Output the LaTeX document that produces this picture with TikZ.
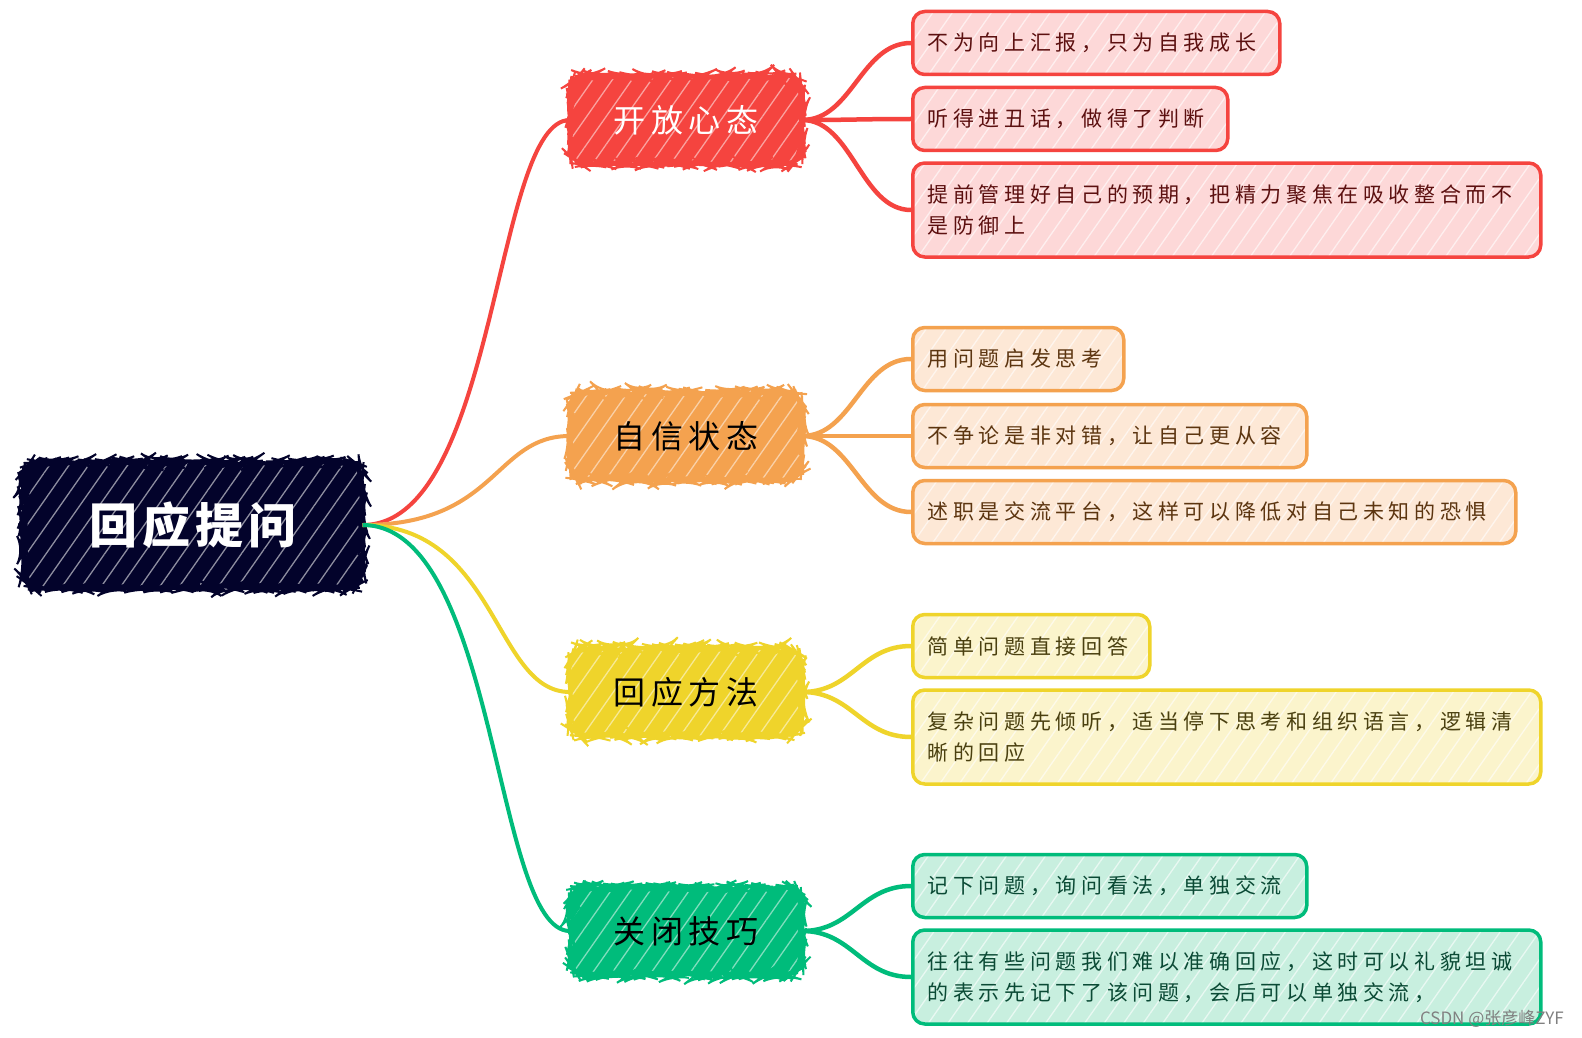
\documentclass[tikz,border=0pt]{standalone}
\usepackage{fontspec}
\usetikzlibrary{patterns.meta,decorations.pathmorphing}
\newfontfamily\leaffont[LetterSpace=22]{Noto Sans CJK SC}
\newfontfamily\branchfont[LetterSpace=18]{Noto Sans CJK SC}
\newfontfamily\rootfont[LetterSpace=10]{Noto Sans CJK SC}
\newfontfamily\markfont{Noto Sans CJK SC}
\definecolor{cRoot}{HTML}{03032B}
\definecolor{cRed}{HTML}{F5443F}
\definecolor{cOrange}{HTML}{F4A24F}
\definecolor{cYellow}{HTML}{EFD42B}
\definecolor{cGreen}{HTML}{00BC7B}
\definecolor{cRedL}{HTML}{FDD8D8}
\definecolor{cOrangeL}{HTML}{FDE8D6}
\definecolor{cYellowL}{HTML}{FBF4CC}
\definecolor{cGreenL}{HTML}{C8EFDF}
\definecolor{tRed}{HTML}{5C1010}
\definecolor{tOrange}{HTML}{5C3510}
\definecolor{tYellow}{HTML}{4A4010}
\definecolor{tGreen}{HTML}{0B4A35}
\begin{document}
\begin{tikzpicture}[x=1pt,y=-1pt]
\tikzset{
  hatch/.style={preaction={pattern={Lines[angle=55,distance=16pt,line width=1.3pt]},pattern color=white,opacity=#1}},
  rootbox/.style={rounded corners=16pt,minimum width=339pt,minimum height=126pt,inner sep=0pt,
    preaction={fill=cRoot},hatch=0.55,
    postaction={draw=cRoot,line width=2pt,decorate,decoration={random steps,segment length=4pt,amplitude=1.3pt}},
    text=white,font=\rootfont\fontsize{48}{52}\selectfont\bfseries},
  branchbox/.style={rounded corners=16pt,minimum width=232pt,minimum height=88pt,inner sep=0pt,
    preaction={fill=#1},hatch=0.5,
    postaction={draw=#1,line width=2pt,decorate,decoration={random steps,segment length=4pt,amplitude=1.3pt}},
    font=\branchfont\fontsize{32}{36}\selectfont},
  leafbox/.style 2 args={anchor=west,rounded corners=12pt,minimum height=63pt,inner xsep=15pt,inner ysep=0pt,
    align=left,preaction={fill=#2},hatch=0.6,draw=#1,line width=3.5pt,
    font=\leaffont\fontsize{21}{31}\selectfont},
  leafred/.style={leafbox={cRed}{cRedL},text=tRed},
  leaforange/.style={leafbox={cOrange}{cOrangeL},text=tOrange},
  leafyellow/.style={leafbox={cYellow}{cYellowL},text=tYellow},
  leafgreen/.style={leafbox={cGreen}{cGreenL},text=tGreen},
  twoline/.style={minimum height=94pt},
  mainlink/.style={line width=4pt,draw=#1},
  leaflink/.style={line width=4.5pt,draw=#1}
}
\useasboundingbox[fill=white] (0,0) rectangle (1582,1038);
\node[rootbox] (n_root) at (193,525) {回应提问};
\node[branchbox=cRed,text=white] (n_open) at (686,120) {开放心态};
\node[branchbox=cOrange,text=black] (n_conf) at (686,436) {自信状态};
\node[branchbox=cYellow,text=black] (n_meth) at (686,692) {回应方法};
\node[branchbox=cGreen,text=black] (n_close) at (686,931) {关闭技巧};
\node[leafred,text width=337pt] (n_open1) at (911,43) {不为向上汇报，只为自我成长};
\node[leafred,text width=285pt] (n_open2) at (911,119) {听得进丑话，做得了判断};
\node[leafred,twoline,text width=598pt] (n_open3) at (911,210) {提前管理好自己的预期，把精力聚焦在吸收整合而不\\是防御上};
\node[leaforange,text width=181pt] (n_conf1) at (911,359) {用问题启发思考};
\node[leaforange,text width=364pt] (n_conf2) at (911,436) {不争论是非对错，让自己更从容};
\node[leaforange,text width=573pt] (n_conf3) at (911,512) {述职是交流平台，这样可以降低对自己未知的恐惧};
\node[leafyellow,text width=207pt] (n_meth1) at (911,646) {简单问题直接回答};
\node[leafyellow,twoline,text width=598pt] (n_meth2) at (911,737) {复杂问题先倾听，适当停下思考和组织语言，逻辑清\\晰的回应};
\node[leafgreen,text width=364pt] (n_close1) at (911,886) {记下问题，询问看法，单独交流};
\node[leafgreen,twoline,text width=598pt] (n_close2) at (911,977) {往往有些问题我们难以准确回应，这时可以礼貌坦诚\\的表示先记下了该问题，会后可以单独交流，};
\node[anchor=east,text=black!50,font=\markfont\fontsize{17}{19}\selectfont,inner sep=0pt] (n_mark) at (1564,1019) {CSDN @张彦峰ZYF};
\draw[mainlink=cRed] (n_root.east) .. controls +(135,0) and +(-76,0) .. (n_open.west);
\draw[mainlink=cOrange] (n_root.east) .. controls +(135,0) and +(-76,0) .. (n_conf.west);
\draw[mainlink=cYellow] (n_root.east) .. controls +(135,0) and +(-76,0) .. (n_meth.west);
\draw[mainlink=cGreen] (n_root.east) .. controls +(135,0) and +(-76,0) .. (n_close.west);
\draw[leaflink=cRed] (n_open.east) .. controls +(50,0) and +(-50,0) .. (n_open1.west);
\draw[leaflink=cRed] (n_open.east) .. controls +(50,0) and +(-50,0) .. (n_open2.west);
\draw[leaflink=cRed] (n_open.east) .. controls +(50,0) and +(-50,0) .. (n_open3.west);
\draw[leaflink=cOrange] (n_conf.east) .. controls +(50,0) and +(-50,0) .. (n_conf1.west);
\draw[leaflink=cOrange] (n_conf.east) .. controls +(50,0) and +(-50,0) .. (n_conf2.west);
\draw[leaflink=cOrange] (n_conf.east) .. controls +(50,0) and +(-50,0) .. (n_conf3.west);
\draw[leaflink=cYellow] (n_meth.east) .. controls +(50,0) and +(-50,0) .. (n_meth1.west);
\draw[leaflink=cYellow] (n_meth.east) .. controls +(50,0) and +(-50,0) .. (n_meth2.west);
\draw[leaflink=cGreen] (n_close.east) .. controls +(50,0) and +(-50,0) .. (n_close1.west);
\draw[leaflink=cGreen] (n_close.east) .. controls +(50,0) and +(-50,0) .. (n_close2.west);
\end{tikzpicture}
\end{document}
